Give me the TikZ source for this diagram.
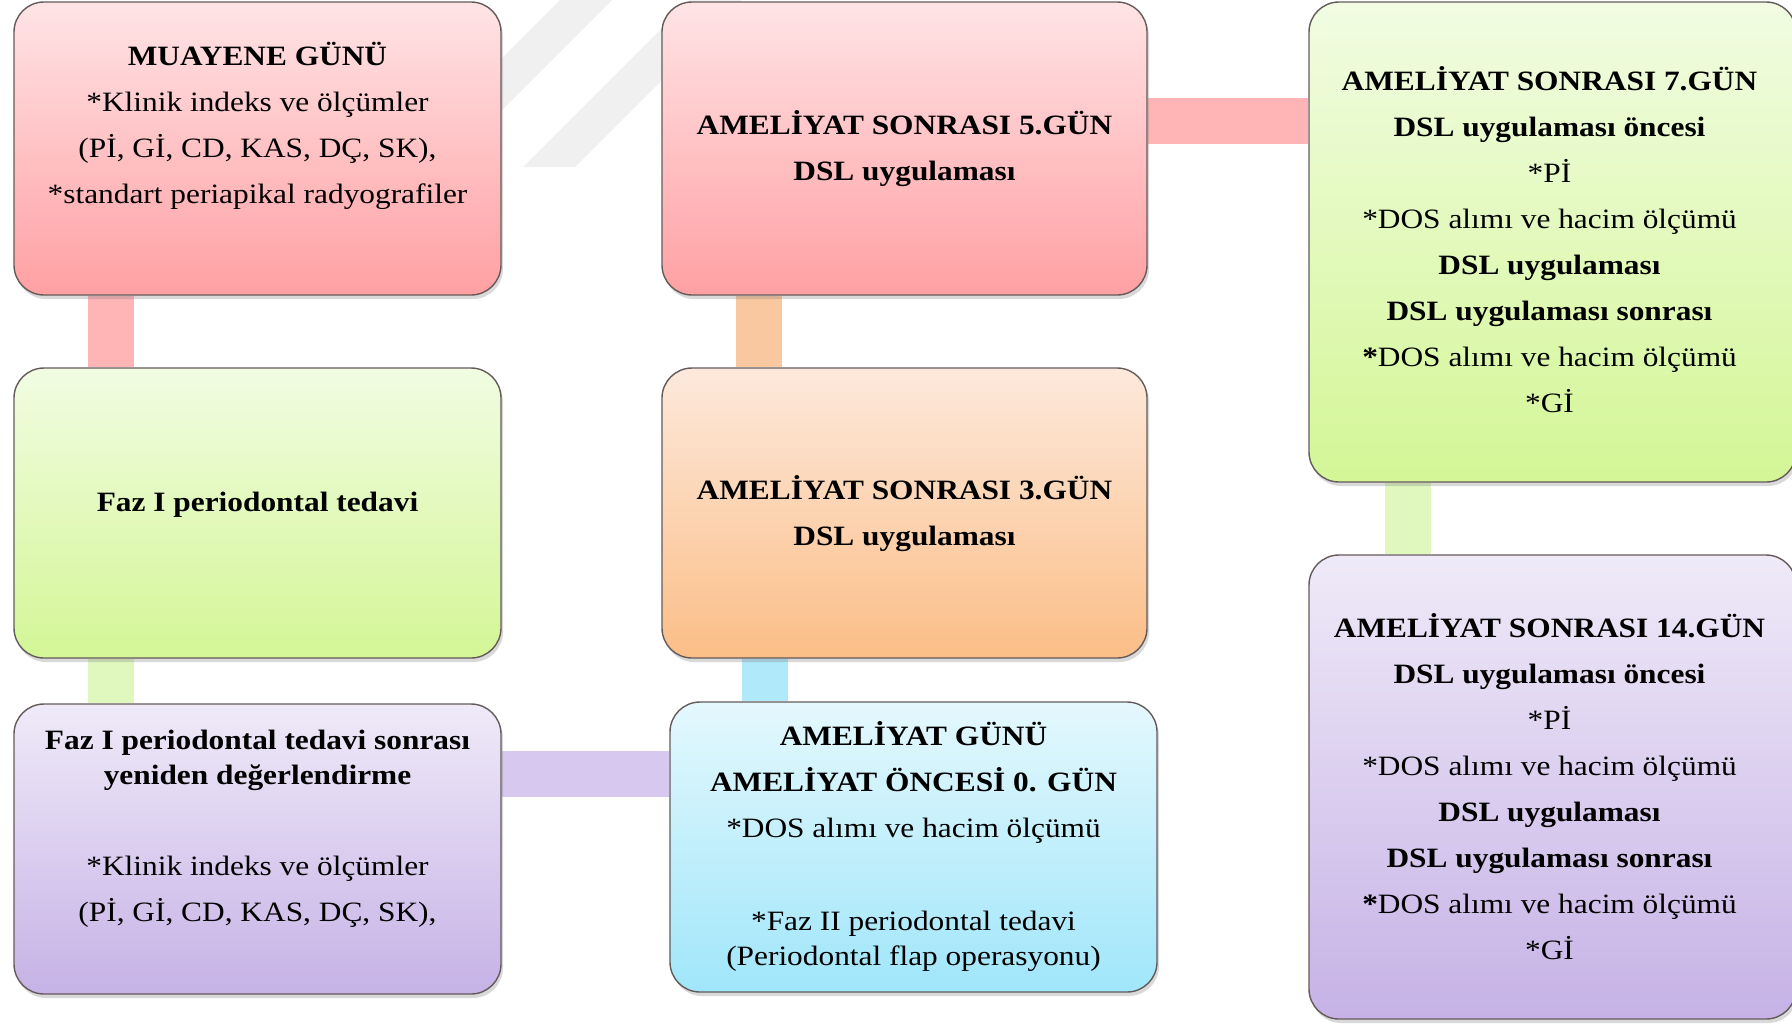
\documentclass[tikz,border=0pt]{standalone}
\usepackage{fontspec}
\setmainfont{Liberation Serif}
\usepackage{graphicx}
\usetikzlibrary{shadows,backgrounds,calc}
\definecolor{rTop}{RGB}{255,228,230}
\definecolor{rBot}{RGB}{255,160,163}
\definecolor{gTop}{RGB}{241,252,226}
\definecolor{gBot}{RGB}{212,246,150}
\definecolor{pTop}{RGB}{239,234,248}
\definecolor{pBot}{RGB}{198,178,230}
\definecolor{oTop}{RGB}{253,233,220}
\definecolor{oBot}{RGB}{251,190,135}
\definecolor{cTop}{RGB}{228,248,253}
\definecolor{cBot}{RGB}{160,230,250}
\definecolor{rBar}{RGB}{255,180,182}
\definecolor{gBar}{RGB}{224,247,190}
\definecolor{pBar}{RGB}{214,200,238}
\definecolor{cBar}{RGB}{176,234,250}
\definecolor{oBar}{RGB}{250,200,160}
\definecolor{wmark}{RGB}{240,240,240}
\definecolor{edge}{RGB}{100,90,90}
\newcommand{\boxtext}[1]{\scalebox{1.12}[1]{\begin{tabular}{@{}c@{}}#1\end{tabular}}}
\newcommand{\lnbr}{\\[5.5pt]}
\begin{document}
\begin{tikzpicture}[x=0.5pt,y=-0.5pt,
  box/.style={draw=edge, line width=0.7pt, rounded corners=15pt, inner sep=0pt,
    drop shadow={shadow xshift=1pt, shadow yshift=-2pt, opacity=0.3}},
  redbox/.style={top color=rTop, bottom color=rBot},
  greenbox/.style={top color=gTop, bottom color=gBot},
  purplebox/.style={top color=pTop, bottom color=pBot},
  orangebox/.style={top color=oTop, bottom color=oBot},
  cyanbox/.style={top color=cTop, bottom color=cBot},
  txt/.style={inner sep=0pt, font=\fontsize{14}{17.5}\selectfont},
  bar/.style={line width=23pt}]
\useasboundingbox (0,0) rectangle (1792,1024);

% boxes
\node[box, redbox, minimum width=243.5pt, minimum height=146.5pt] (b1) at (257.5,148.5) {};
\node[box, greenbox, minimum width=243.5pt, minimum height=145pt] (b2) at (257.5,513) {};
\node[box, purplebox, minimum width=243.5pt, minimum height=145pt] (b3) at (257.5,849) {};
\node[box, redbox, minimum width=242.5pt, minimum height=146.5pt] (b4) at (904.5,148.5) {};
\node[box, orangebox, minimum width=242.5pt, minimum height=145pt] (b5) at (904.5,513) {};
\node[box, cyanbox, minimum width=243.5pt, minimum height=145pt] (b6) at (913.5,847) {};
\node[box, greenbox, minimum width=243.5pt, minimum height=240pt] (b7) at (1552.5,242) {};
\node[box, purplebox, minimum width=243.5pt, minimum height=232pt] (b8) at (1552.5,787) {};

% texts
\node[txt] (t1) at (257.5,127) {\boxtext{\textbf{MUAYENE GÜNÜ}\lnbr *Klinik indeks ve ölçümler\lnbr (Pİ, Gİ, CD, KAS, DÇ, SK),\lnbr *standart periapikal radyografiler}};
\node[txt] (t2) at (257.5,504.5) {\boxtext{\textbf{Faz I periodontal tedavi}}};
\node[txt] (t3) at (257.5,828.5) {\boxtext{\textbf{Faz I periodontal tedavi sonrası}\\ \textbf{yeniden değerlendirme}\\[28pt] *Klinik indeks ve ölçümler\lnbr (Pİ, Gİ, CD, KAS, DÇ, SK),}};
\node[txt] (t4) at (904.5,150.5) {\boxtext{\textbf{AMELİYAT SONRASI 5.GÜN}\lnbr \textbf{DSL uygulaması}}};
\node[txt] (t5) at (904.5,515.5) {\boxtext{\textbf{AMELİYAT SONRASI 3.GÜN}\lnbr \textbf{DSL uygulaması}}};
\node[txt] (t6) at (913.5,848.5) {\boxtext{\textbf{AMELİYAT GÜNÜ}\lnbr \textbf{AMELİYAT ÖNCESİ 0. GÜN}\lnbr *DOS alımı ve hacim ölçümü\\[29pt] *Faz II periodontal tedavi\\ (Periodontal flap operasyonu)}};
\node[txt] (t7) at (1549.5,244) {\boxtext{\textbf{AMELİYAT SONRASI 7.GÜN}\lnbr \textbf{DSL uygulaması öncesi}\lnbr *Pİ\lnbr *DOS alımı ve hacim ölçümü\lnbr \textbf{DSL uygulaması}\lnbr \textbf{DSL uygulaması sonrası}\lnbr \textbf{*}DOS alımı ve hacim ölçümü\lnbr *Gİ}};
\node[txt] (t8) at (1549.5,791) {\boxtext{\textbf{AMELİYAT SONRASI 14.GÜN}\lnbr \textbf{DSL uygulaması öncesi}\lnbr *Pİ\lnbr *DOS alımı ve hacim ölçümü\lnbr \textbf{DSL uygulaması}\lnbr \textbf{DSL uygulaması sonrası}\lnbr \textbf{*}DOS alımı ve hacim ölçümü\lnbr *Gİ}};

\begin{pgfonlayer}{background}
  % faint watermark
  \fill[wmark] (560,0) -- (612,0) -- (480,132) -- (428,132) -- cycle;
  \fill[wmark] (523,167) -- (575,167) -- (742,0) -- (690,0) -- cycle;
  % connectors
  \draw[bar, draw=rBar] ([xshift=49pt]b1.south west) -- ([xshift=49pt]b2.north west);
  \draw[bar, draw=gBar] ([xshift=49pt]b2.south west) -- ([xshift=49pt]b3.north west);
  \draw[bar, draw=pBar] ([yshift=37.75pt]b3.east) -- ([yshift=36.75pt]b6.west);
  \draw[bar, draw=cBar] ([xshift=48pt]b6.north west) -- ([xshift=52pt]b5.south west);
  \draw[bar, draw=oBar] ([xshift=49pt]b5.north west) -- ([xshift=49pt]b4.south west);
  \draw[bar, draw=rBar] ([yshift=13.75pt]b4.east) -- ([yshift=60.5pt]b7.west);
  \draw[bar, draw=gBar] ([xshift=50pt]b7.south west) -- ([xshift=50pt]b8.north west);
\end{pgfonlayer}
\end{tikzpicture}
\end{document}
